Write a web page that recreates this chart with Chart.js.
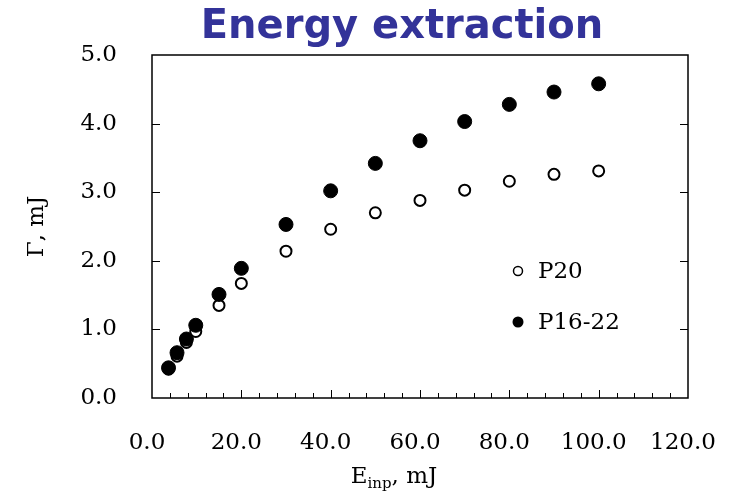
<!DOCTYPE html>
<html>
<head>
<meta charset="utf-8">
<script src="https://cdn.jsdelivr.net/npm/chart.js@4"></script>
<style>
  body { margin: 0; background: #fff; }
  #wrap { width: 737px; height: 494px; position: relative; }
</style>
</head>
<body>
<div id="wrap"><canvas id="energyChart"></canvas></div>
<script>
// input energy, mJ
const energyInput = [3.7, 5.6, 7.7, 9.8, 15, 20, 30, 40, 50, 60, 70, 80, 90, 100];
// extracted energy, mJ
const p20 = [0.42, 0.61, 0.81, 0.97, 1.35, 1.67, 2.14, 2.46, 2.70, 2.88, 3.03, 3.16, 3.26, 3.31];
const p1622 = [0.44, 0.66, 0.86, 1.06, 1.51, 1.89, 2.53, 3.02, 3.42, 3.75, 4.03, 4.28, 4.46, 4.58];
const seriesNames = ["P20", "P16-22"];

const serif = "'DejaVu Serif', serif";

// frame, inward ticks, legend, title and x axis title
const decorations = {
  id: "decorations",
  afterDatasetsDraw(chart) {
    const c = chart.ctx;
    const a = chart.chartArea;
    const x = chart.scales.x;
    const y = chart.scales.y;
    c.save();
    c.strokeStyle = "#000";
    c.lineWidth = 1.5;
    c.strokeRect(a.left, a.top, a.right - a.left, a.bottom - a.top);

    c.lineWidth = 1;
    c.beginPath();
    for (let v = 4; v < 120; v += 4) {
      const px = Math.round(x.getPixelForValue(v)) + 0.5;
      const len = v % 20 === 0 ? 8 : 5;
      c.moveTo(px, a.bottom);
      c.lineTo(px, a.bottom - len);
    }
    for (let v = 1; v < 5; v++) {
      const py = Math.round(y.getPixelForValue(v)) + 0.5;
      c.moveTo(a.left, py);
      c.lineTo(a.left + 8, py);
      c.moveTo(a.right, py);
      c.lineTo(a.right - 8, py);
    }
    c.stroke();

    // legend
    c.font = "23px " + serif;
    c.textBaseline = "middle";
    c.textAlign = "left";
    c.beginPath();
    c.arc(518, 271, 4.5, 0, Math.PI * 2);
    c.fillStyle = "#fff";
    c.fill();
    c.lineWidth = 1.5;
    c.stroke();
    c.fillStyle = "#000";
    c.fillText(seriesNames[0], 538, 272);
    c.beginPath();
    c.arc(518, 322, 5.5, 0, Math.PI * 2);
    c.fill();
    c.fillText(seriesNames[1], 538, 323);

    // x axis title with subscript
    c.textBaseline = "alphabetic";
    const big = "23px " + serif, small = "15px " + serif;
    c.font = big;
    const wE = c.measureText("E").width;
    const wTail = c.measureText(", mJ").width;
    c.font = small;
    const wSub = c.measureText("inp").width;
    let tx = 394 - (wE + wSub + wTail) / 2;
    c.font = big;
    c.fillText("E", tx, 483);
    tx += wE;
    c.font = small;
    c.fillText("inp", tx, 488);
    tx += wSub;
    c.font = big;
    c.fillText(", mJ", tx, 483);

    // chart title
    c.font = "bold 40px 'DejaVu Sans', sans-serif";
    c.fillStyle = "#333399";
    c.textAlign = "center";
    c.fillText("Energy extraction", 402, 38);
    c.restore();
  }
};

new Chart(document.getElementById("energyChart"), {
  type: "scatter",
  data: {
    datasets: [
      {
        label: seriesNames[0],
        data: energyInput.map((e, i) => ({ x: e, y: p20[i] })),
        pointRadius: 5.5,
        pointBorderWidth: 2,
        pointBackgroundColor: "#fff",
        pointBorderColor: "#000",
        order: 1
      },
      {
        label: seriesNames[1],
        data: energyInput.map((e, i) => ({ x: e, y: p1622[i] })),
        pointRadius: 7,
        pointBorderWidth: 1,
        pointBackgroundColor: "#000",
        pointBorderColor: "#000",
        order: 0
      }
    ]
  },
  options: {
    responsive: true,
    maintainAspectRatio: false,
    animation: false,
    events: [],
    layout: { padding: { top: 55, right: 49, left: 0, bottom: 0 } },
    plugins: {
      legend: { display: false },
      tooltip: { enabled: false }
    },
    scales: {
      x: {
        type: "linear",
        min: 0,
        max: 120,
        afterFit: (s) => { s.height = 96; s.paddingLeft = 0; s.paddingRight = 0; },
        grid: { display: false, drawTicks: false },
        border: { display: false },
        ticks: {
          stepSize: 20,
          padding: 31,
          labelOffset: -5,
          color: "#000",
          font: { family: serif, size: 23 },
          callback: (v) => v.toFixed(1)
        }
      },
      y: {
        min: 0,
        max: 5,
        afterFit: (s) => { s.width = 152; s.paddingTop = 0; s.paddingBottom = 0; },
        grid: { display: false, drawTicks: false },
        border: { display: false },
        title: {
          display: true,
          text: "Γ, mJ",
          color: "#000",
          font: { family: serif, size: 23 },
          padding: { top: 23, bottom: 0 }
        },
        ticks: {
          stepSize: 1,
          padding: 35,
          color: "#000",
          font: { family: serif, size: 23 },
          callback: (v) => v.toFixed(1)
        }
      }
    }
  },
  plugins: [decorations]
});
</script>
</body>
</html>
